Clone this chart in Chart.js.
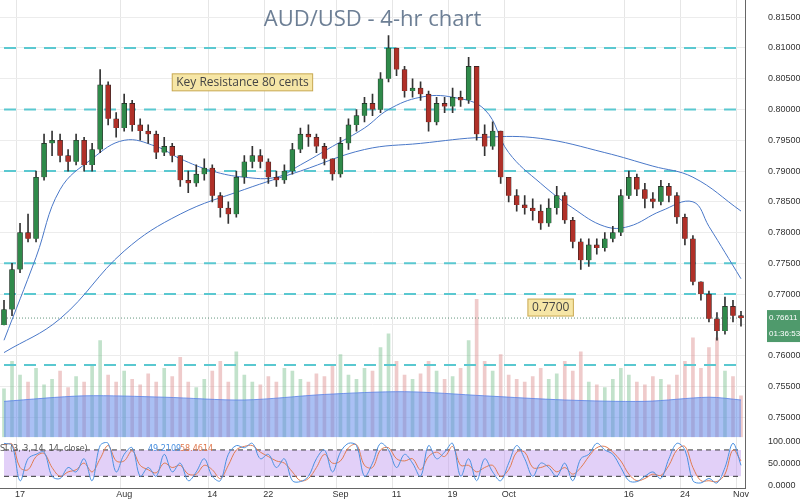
<!DOCTYPE html>
<html><head><meta charset="utf-8">
<script src="https://cdn.jsdelivr.net/npm/chart.js@4.4.0/dist/chart.umd.min.js"></script>
<style>html,body{margin:0;padding:0;background:#fff}#w{width:800px;height:501px}</style>
</head><body><div id="w"><canvas id="c"></canvas></div>
<script>
const closes=[.7675,.7740,.7800,.7790,.7890,.7945,.7950,.7925,.7915,.7950,.7910,.7935,.8040,.7985,.7970,.8010,.7975,.7965,.7960,.7930,.7940,.7925,.7885,.7880,.7895,.7905,.7860,.7840,.7830,.7890,.7915,.7925,.7915,.7890,.7885,.7900,.7935,.7960,.7955,.7940,.7920,.7895,.7945,.7975,.7990,.8010,.8000,.8050,.8100,.8065,.8030,.8035,.8025,.7980,.8010,.8005,.8020,.8015,.8070,.7960,.7940,.7965,.7890,.7860,.7845,.7840,.7835,.7815,.7840,.7860,.7820,.7785,.7755,.7780,.7775,.7790,.7800,.7860,.7890,.7870,.7855,.7850,.7875,.7860,.7825,.7790,.7720,.7700,.7660,.7640,.7680,.7665,.7661];
const highs=[.7690,.7750,.7815,.7830,.7900,.7960,.7965,.7960,.7935,.7960,.7955,.7945,.8065,.8045,.7995,.8025,.8015,.7985,.7975,.7965,.7955,.7945,.7925,.7900,.7910,.7920,.7910,.7865,.7850,.7900,.7925,.7940,.7935,.7920,.7900,.7910,.7945,.7970,.7975,.7960,.7945,.7920,.7955,.7985,.8000,.8020,.8025,.8060,.8120,.8100,.8070,.8050,.8045,.8030,.8020,.8020,.8035,.8030,.8085,.8065,.7975,.7980,.7965,.7890,.7870,.7860,.7855,.7845,.7855,.7875,.7865,.7825,.7790,.7790,.7790,.7800,.7810,.7870,.7900,.7895,.7880,.7865,.7885,.7880,.7865,.7830,.7795,.7720,.7705,.7670,.7695,.7690,.7672];
const lows=[.7650,.7665,.7735,.7785,.7785,.7885,.7925,.7915,.7900,.7910,.7900,.7900,.7930,.7975,.7955,.7965,.7965,.7950,.7945,.7920,.7925,.7915,.7875,.7865,.7875,.7885,.7850,.7825,.7815,.7825,.7880,.7905,.7905,.7880,.7875,.7880,.7895,.7930,.7940,.7930,.7910,.7885,.7890,.7935,.7965,.7980,.7990,.7995,.8045,.8055,.8020,.8020,.8015,.7965,.7975,.7995,.7995,.8005,.8010,.7950,.7925,.7935,.7880,.7850,.7835,.7830,.7820,.7805,.7810,.7830,.7815,.7775,.7740,.7745,.7765,.7770,.7785,.7795,.7855,.7860,.7840,.7840,.7845,.7850,.7815,.7780,.7715,.7690,.7655,.7625,.7635,.7655,.7648];
const firstOpen=.7650;
const volumes=[0.35,0.55,0.45,0.40,0.50,0.38,0.42,0.48,0.36,0.44,0.40,0.52,0.70,0.45,0.40,0.48,0.42,0.38,0.46,0.40,0.50,0.44,0.58,0.40,0.36,0.42,0.48,0.55,0.40,0.62,0.45,0.40,0.38,0.44,0.40,0.50,0.48,0.42,0.40,0.46,0.44,0.52,0.60,0.45,0.42,0.50,0.48,0.65,0.75,0.55,0.45,0.42,0.46,0.55,0.48,0.42,0.44,0.50,0.70,1.00,0.55,0.48,0.60,0.45,0.42,0.40,0.44,0.50,0.42,0.46,0.55,0.48,0.62,0.40,0.38,0.36,0.42,0.50,0.45,0.40,0.38,0.44,0.42,0.38,0.45,0.55,0.72,0.50,0.65,0.72,0.48,0.44,0.30];
const volMA={0:.26,10:.30,20:.29,30:.27,40:.31,50:.33,60:.30,70:.27,80:.26,88:.29,92:.27};
const maFast={0:.7625,4:.776,7:.787,11:.792,15:.795,19:.794,22:.792,26:.790,30:.789,34:.789,37:.791,41:.794,45:.797,48:.800,52:.802,56:.802,60:.800,63:.793,67:.788,71:.784,75:.781,78:.781,82:.7835,86:.785,88:.781,92:.7725};
const maSlow={0:.7605,7:.766,15:.777,22:.783,30:.787,37:.790,45:.7935,52:.7945,60:.7955,67:.7953,75:.793,81:.7908,86:.789,92:.7835};
const stochK=[95,90,10,60,70,75,20,15,40,30,60,10,90,95,30,70,85,20,40,20,70,30,50,10,30,60,20,10,70,90,85,95,60,70,40,60,10,8,20,60,80,30,75,95,90,20,50,95,80,40,70,50,20,90,60,75,95,20,60,10,60,30,10,50,90,60,20,50,40,20,50,10,60,70,95,80,70,40,10,8,20,30,15,60,95,80,10,5,15,5,40,95,45];
const stochD=[92,93,40,35,65,72,40,20,30,35,50,30,60,90,55,55,78,45,35,28,50,40,45,25,25,45,35,15,45,80,88,90,75,65,55,50,30,10,15,40,70,50,55,85,92,45,40,80,85,60,55,60,35,65,75,65,88,45,45,30,40,45,20,35,75,75,40,40,45,30,40,25,40,65,85,88,75,55,25,10,15,25,22,45,80,88,40,10,10,8,25,80,55];
const dateTicks={2:'17',15:'Aug',26:'14',33:'22',42:'Sep',49:'11',56:'19',63:'Oct',78:'16',85:'24',92:'Nov'};
const priceTicks=[0.75,0.755,0.76,0.765,0.77,0.775,0.78,0.785,0.79,0.795,0.80,0.805,0.81,0.815];
const stochTicks=[0,50,100];
const levels=[0.81,0.80,0.79,0.775,0.77,0.7585];
const lastPrice=0.76611;
const PMIN=0.74675,PMAX=0.8178,VOLK=0.0224;

const labels=closes.map((_,i)=>String(i));
const opens=closes.map((c,i)=>i?closes[i-1]:firstOpen);
const up=closes.map((c,i)=>c>=opens[i]);
const sparse=o=>labels.map((_,i)=>o[i]!==undefined?o[i]:null);
const ds=[];
ds.push({type:'line',data:sparse(volMA).map(v=>v==null?null:PMIN+v*VOLK),yAxisID:'y',borderColor:'rgba(90,130,230,0.8)',backgroundColor:'rgba(100,140,235,0.55)',fill:'start',pointRadius:0,borderWidth:1,spanGaps:true,tension:0.3,order:9});
ds.push({type:'bar',data:volumes.map(v=>[PMIN,PMIN+v*VOLK]),yAxisID:'y',backgroundColor:up.map(u=>u?'rgba(120,190,140,0.45)':'rgba(220,140,140,0.45)'),barThickness:3,grouped:false,order:10});
levels.forEach(l=>ds.push({type:'line',data:labels.map(()=>l),yAxisID:'y',borderColor:'#5ac8d0',borderWidth:2,borderDash:[12,8],pointRadius:0,order:8}));
ds.push({type:'line',data:labels.map(()=>lastPrice),yAxisID:'y',borderColor:'#3a7a5a',borderWidth:0.8,borderDash:[1,2],pointRadius:0,order:8});
ds.push({type:'line',data:sparse(maFast),yAxisID:'y',borderColor:'#4a78c8',borderWidth:1,pointRadius:0,spanGaps:true,tension:0.4,order:5});
ds.push({type:'line',data:sparse(maSlow),yAxisID:'y',borderColor:'#4a78c8',borderWidth:1,pointRadius:0,spanGaps:true,tension:0.4,order:5});
ds.push({type:'bar',data:labels.map((_,i)=>[lows[i],highs[i]]),yAxisID:'y',backgroundColor:'#333',barThickness:1,grouped:false,order:3});
ds.push({type:'bar',data:labels.map((_,i)=>[opens[i],closes[i]+(Math.abs(closes[i]-opens[i])<0.0002?0.0002:0)]),yAxisID:'y',backgroundColor:up.map(u=>u?'#2f8a4a':'#b03028'),borderColor:'#222',borderWidth:0.6,barThickness:5,grouped:false,order:2});
ds.push({type:'line',data:labels.map(()=>80),yAxisID:'yS',borderColor:'#333',borderDash:[5,4],borderWidth:1,pointRadius:0,fill:false,order:7});
ds.push({type:'line',data:labels.map(()=>20),yAxisID:'yS',borderColor:'#333',borderDash:[5,4],borderWidth:1,pointRadius:0,backgroundColor:'rgba(190,150,240,0.45)',fill:'-1',order:7});
ds.push({type:'line',data:stochK,yAxisID:'yS',borderColor:'#4a90e0',borderWidth:1,pointRadius:0,tension:0.35,order:4});
ds.push({type:'line',data:stochD,yAxisID:'yS',borderColor:'#e07a50',borderWidth:1,pointRadius:0,tension:0.35,order:4});

const ann={id:'ann',afterDraw(ch){
 const c=ch.ctx,x=ch.scales.x,y=ch.scales.y,yS=ch.scales.yS,ca=ch.chartArea;
 c.save();
 c.textBaseline='middle';
 c.fillStyle='#333';c.font='9px "Liberation Sans", sans-serif';c.textAlign='left';
 priceTicks.forEach(v=>c.fillText(v.toFixed(5),ca.right+23,y.getPixelForValue(v)));
 stochTicks.forEach(v=>c.fillText(v.toFixed(4),ca.right+23,yS.getPixelForValue(v)));
 c.font='22px "Open Sans", sans-serif';c.fillStyle='#6d7f95';c.textAlign='center';
 c.fillText('AUD/USD - 4-hr chart',(ca.left+ca.right)/2,20);
 const box=(t,px,py,f)=>{c.font=f;const w=c.measureText(t).width+8;c.fillStyle='#f6e6a6';c.strokeStyle='#c8a850';c.lineWidth=1;c.fillRect(px,py-8,w,17);c.strokeRect(px,py-8,w,17);c.fillStyle='#444';c.textAlign='left';c.fillText(t,px+4,py+1);};
 box('Key Resistance 80 cents',x.getPixelForValue(21),y.getPixelForValue(0.8045),'12px "Open Sans", sans-serif');
 box('0.7700',x.getPixelForValue(65.4),y.getPixelForValue(0.7679),'12px "Open Sans", sans-serif');
 const ly=y.getPixelForValue(lastPrice);
 c.fillStyle='#4f9a6c';c.fillRect(ca.right+22,ly-8,33,32);
 c.fillStyle='#fff';c.font='8px "Liberation Sans", sans-serif';c.textAlign='left';
 c.fillText('0.76611',ca.right+24,ly);c.fillText('01:36:53',ca.right+24,ly+16);
 c.fillStyle='#555';c.font='8px "DejaVu Sans", sans-serif';
 c.fillText('SI (3, 3, 14, 14, close)',ca.left,yS.getPixelForValue(82));
 c.fillStyle='#4a90e0';c.fillText('49.2109',ca.left+148,yS.getPixelForValue(82));
 c.fillStyle='#e07a50';c.fillText('58.4614',ca.left+180,yS.getPixelForValue(82));
 c.restore();
}};

new Chart(document.getElementById('c'),{
 data:{labels,datasets:ds},
 plugins:[ann],
 options:{responsive:true,maintainAspectRatio:false,animation:false,
  layout:{padding:0},
  plugins:{legend:{display:false},tooltip:{enabled:false}},
  scales:{
   x:{offset:true,grid:{color:c=>dateTicks[c.index]?'#e6e6e6':'rgba(0,0,0,0)',drawTicks:false},
      ticks:{autoSkip:false,maxRotation:0,padding:1,color:'#333',font:{size:9,family:'Liberation Sans'},callback:(v,i)=>dateTicks[i]||''},border:{color:'#666'}},
   y:{position:'right',stack:'v',stackWeight:8.57,min:PMIN,max:PMAX,afterFit:a=>{a.width=55;},
      grid:{color:c=>priceTicks.some(p=>Math.abs(p-c.tick.value)<1e-6)?'#ececec':'rgba(0,0,0,0)',drawTicks:false},
      afterBuildTicks:a=>{a.ticks=priceTicks.map(v=>({value:v}));},
      ticks:{display:false},border:{color:'#666'}},
   yS:{position:'right',stack:'v',stackWeight:1,min:-7,max:109,afterFit:a=>{a.width=55;},
      grid:{display:false},ticks:{display:false},border:{color:'#666'}}
  }}
});
</script></body></html>
